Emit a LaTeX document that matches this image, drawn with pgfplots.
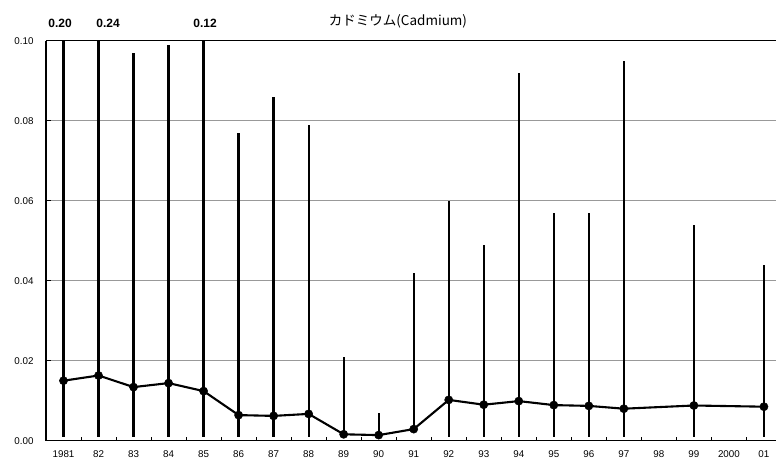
\documentclass[border=0pt]{standalone}
\usepackage{fontspec}
\setmainfont{Liberation Sans}
\newfontfamily\cjk{Noto Sans CJK JP}
\usepackage{pgfplots}
\usepackage{pgfplotstable}
\pgfplotsset{compat=1.18}

% annual mean, minimum and maximum (mg/kg); 98 and 2000 not measured
\pgfplotstableread{
x  mean    lo      hi
0  0.0150  0.001   0.20
1  0.0163  0.001   0.24
2  0.0134  0.001   0.097
3  0.0144  0.001   0.099
4  0.0124  0.001   0.12
5  0.0064  0.001   0.077
6  0.0062  0.001   0.086
7  0.0067  0.001   0.079
8  0.0016  0.0016  0.021
9  0.0014  0.0014  0.007
10 0.0029  0.0025  0.042
11 0.0102  0.001   0.060
12 0.0090  0.001   0.049
13 0.0099  0.001   0.092
14 0.0089  0.001   0.057
15 0.0087  0.001   0.057
16 0.0080  0.001   0.095
17 nan     nan     nan
18 0.0088  0.001   0.054
19 nan     nan     nan
20 0.0085  0.001   0.044
}\cdtable

\begin{document}
\begin{tikzpicture}
\begin{axis}[
    at={(0,0)}, anchor=south west,
    scale only axis, width=730bp, height=400bp,
    xmin=-0.5, xmax=20.345, ymin=0, ymax=0.10,
    axis x line*=bottom, axis y line*=left,
    axis line style={-, line width=1.2bp, black},
    xtick={0,...,20},
    xticklabels={1981,82,83,84,85,86,87,88,89,90,91,92,93,94,95,96,97,98,99,2000,01},
    minor xtick={0.5,1.5,...,19.5},
    major x tick style={draw=none},
    ytick={0,0.02,...,0.1},
    tick align=inside,
    major tick length=5bp, minor tick length=4bp,
    tick style={black, line width=0.8bp},
    ymajorgrids, grid style={gray!80, line width=1bp},
    tick label style={font=\fontsize{9.8bp}{11bp}\selectfont, black},
    xticklabel style={yshift=-6bp},
    yticklabel style={xshift=-9bp, /pgf/number format/.cd, fixed, fixed zerofill, precision=2, assume math mode=true},
    scaled y ticks=false,
    clip mode=individual,
]
\addplot[black, line width=2.1bp, mark=*, mark size=4.1bp, mark options={line width=0.5bp},
    error bars/.cd, y dir=both, y explicit, error mark=none,
    error bar style={line width=2.3bp, black}]
  table[x=x, y=mean,
        y error plus expr=\thisrow{hi}-\thisrow{mean},
        y error minus expr=\thisrow{mean}-\thisrow{lo}] {\cdtable};
\draw[black, line width=1.4bp] (rel axis cs:0,1) -- (rel axis cs:1,1);
\node[font=\bfseries\fontsize{12bp}{14bp}\selectfont, anchor=base] at (axis cs:0,0.1) [xshift=-3.5bp, yshift=13bp] {0.20};
\node[font=\bfseries\fontsize{12bp}{14bp}\selectfont, anchor=base] at (axis cs:1,0.1) [xshift=9.5bp, yshift=13bp] {0.24};
\node[font=\bfseries\fontsize{12bp}{14bp}\selectfont, anchor=base] at (axis cs:4,0.1) [xshift=1.5bp, yshift=13bp] {0.12};
\node[font=\cjk\fontsize{13.5bp}{15bp}\selectfont, anchor=base] at (axis cs:9.55,0.1) [yshift=15bp] {カドミウム(Cadmium)};
\end{axis}
\pgfresetboundingbox
\path (-46bp,-28.3bp) rectangle (730bp,440.7bp);
\end{tikzpicture}
\end{document}
